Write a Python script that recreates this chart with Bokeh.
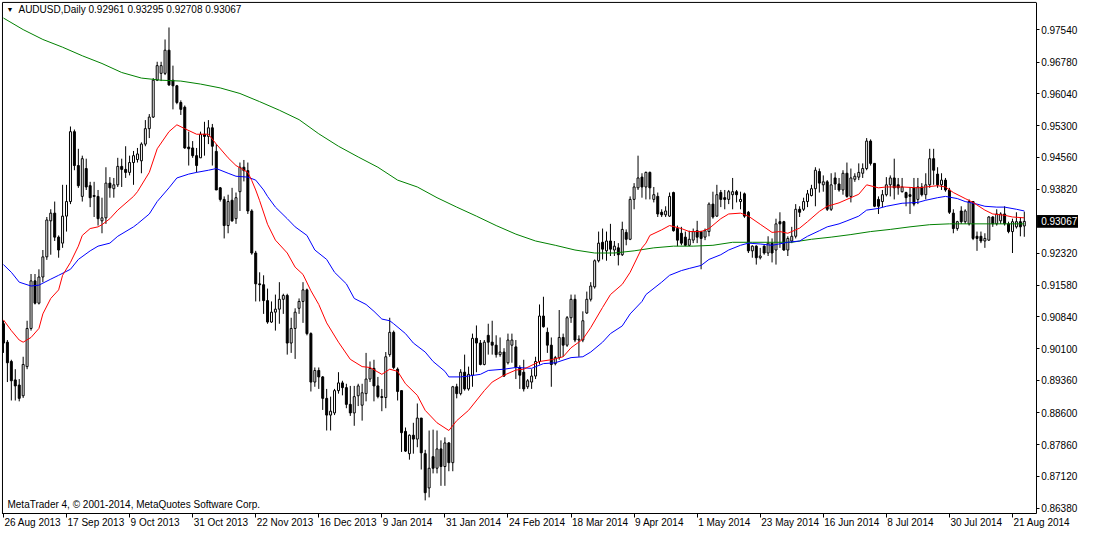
from bokeh.plotting import figure
from bokeh.models import (ColumnDataSource, FixedTicker, PrintfTickFormatter,
                          Label, LinearAxis, Range1d)
from bokeh.core.properties import value
from bokeh.embed import file_html
from bokeh.resources import INLINE

FONT = "Liberation Sans"

# ---------------- data (AUDUSD daily) ----------------
opens = [
    .9068, .9025, .8980, .8937, .8925, .8900, .8968, .9057, .9168, .9116,
    .9177, .9224, .9308, .9326, .9270, .9256, .9319, .9353, .9516, .9437,
    .9365, .9430, .9390, .9367, .9365, .9308, .9315, .9396, .9383, .9392,
    .9435, .9428, .9421, .9444, .9451, .9448, .9487, .9523, .9550, .9636,
    .9652, .9652, .9706, .9636, .9623, .9584, .9573, .9480, .9478, .9460,
    .9455, .9510, .9505, .9525, .9470, .9385, .9358, .9297, .9356, .9313,
    .9376, .9433, .9425, .9331, .9233, .9161, .9159, .9122, .9072, .9095,
    .9102, .9125, .9134, .9023, .9057, .9104, .9120, .9147, .9045, .8932,
    .8959, .8944, .8894, .8855, .8860, .8912, .8930, .8919, .8880, .8860,
    .8900, .8878, .8905, .8939, .8964, .8923, .8898, .8896, .8996, .9048,
    .8962, .8912, .8817, .8765, .8808, .8799, .8848, .8765, .8685, .8758,
    .8731, .8776, .8735, .8790, .8744, .8921, .8905, .8955, .8916, .8948,
    .9034, .9023, .8973, .9041, .9025, .9018, .8996, .9002, .8977, .9018,
    .9014, .8966, .8955, .8921, .8932, .8946, .8980, .9086, .9048, .9018,
    .8975, .8989, .9036, .9018, .9082, .9125, .9030, .9030, .9093, .9125,
    .9154, .9215, .9258, .9238, .9261, .9240, .9245, .9229, .9281, .9265,
    .9358, .9385, .9410, .9387, .9421, .9358, .9365, .9328, .9322, .9319,
    .9374, .9290, .9279, .9270, .9251, .9263, .9285, .9283, .9270, .9283,
    .9347, .9319, .9374, .9362, .9358, .9369, .9376, .9353, .9371, .9328,
    .9238, .9249, .9222, .9249, .9233, .9256, .9240, .9306, .9306, .9240,
    .9261, .9272, .9335, .9335, .9353, .9367, .9383, .9423, .9392, .9399,
    .9335, .9408, .9394, .9380, .9419, .9365, .9405, .9410, .9419, .9430,
    .9494, .9442, .9358, .9353, .9369, .9392, .9408, .9392, .9376, .9374,
    .9369, .9385, .9358, .9387, .9369, .9392, .9453, .9417, .9392, .9403,
    .9380, .9326, .9290, .9331, .9306, .9301, .9353, .9272, .9272, .9261,
    .9263, .9317, .9301, .9308, .9324, .9301, .9283, .9294, .9306, .92961,
]
highs = [
    .9075, .9030, .8984, .8962, .8939, .8991, .9075, .9184, .9184, .9195,
    .9240, .9317, .9335, .9353, .9274, .9392, .9392, .9528, .9521, .9476,
    .9460, .9453, .9399, .9399, .9380, .9362, .9433, .9410, .9408, .9455,
    .9453, .9482, .9460, .9471, .9478, .9491, .9543, .9557, .9641, .9679,
    .9679, .9731, .9759, .9670, .9625, .9589, .9577, .9516, .9494, .9478,
    .9516, .9539, .9543, .9534, .9487, .9387, .9365, .9369, .9385, .9374,
    .9444, .9450, .9444, .9335, .9238, .9188, .9181, .9150, .9120, .9136,
    .9165, .9138, .9138, .9082, .9104, .9127, .9165, .9150, .9048, .8966,
    .8966, .8946, .8916, .8898, .8916, .8955, .8935, .8928, .8923, .8923,
    .8928, .8928, .9000, .8980, .8984, .8944, .8916, .9002, .9082, .9052,
    .8966, .8912, .8826, .8810, .8837, .8882, .8848, .8774, .8819, .8821,
    .8819, .8796, .8803, .8792, .8923, .8928, .8962, .8996, .8968, .9045,
    .9064, .9030, .9030, .9068, .9075, .9041, .9036, .9011, .9045, .9045,
    .9030, .8971, .8984, .8939, .8962, .8991, .9113, .9131, .9059, .9036,
    .8993, .9100, .9045, .9086, .9136, .9136, .9041, .9097, .9143, .9165,
    .9218, .9283, .9290, .9283, .9301, .9261, .9256, .9306, .9288, .9365,
    .9396, .9460, .9419, .9423, .9423, .9387, .9374, .9335, .9342, .9374,
    .9376, .9297, .9294, .9283, .9285, .9290, .9308, .9285, .9290, .9351,
    .9376, .9392, .9380, .9380, .9380, .9408, .9380, .9376, .9374, .9331,
    .9251, .9251, .9245, .9251, .9272, .9267, .9313, .9328, .9308, .9272,
    .9294, .9347, .9342, .9362, .9380, .9392, .9433, .9430, .9414, .9403,
    .9419, .9421, .9408, .9426, .9444, .9430, .9419, .9442, .9442, .9501,
    .9498, .9442, .9365, .9380, .9410, .9414, .9453, .9408, .9408, .9376,
    .9387, .9408, .9408, .9396, .9419, .9476, .9476, .9433, .9419, .9408,
    .9385, .9335, .9308, .9342, .9335, .9358, .9353, .9283, .9283, .9279,
    .9319, .9319, .9335, .9328, .9342, .9306, .9313, .9328, .9317, .93295,
]
lows = [
    .9000, .8932, .8889, .8889, .8887, .8895, .8962, .9052, .9113, .9113,
    .9165, .9217, .9229, .9261, .9222, .9245, .9283, .9347, .9426, .9385,
    .9353, .9380, .9340, .9317, .9297, .9279, .9301, .9362, .9362, .9387,
    .9387, .9408, .9414, .9392, .9444, .9419, .9482, .9501, .9548, .9634,
    .9634, .9648, .9623, .9568, .9580, .9555, .9476, .9437, .9455, .9421,
    .9455, .9460, .9487, .9437, .9380, .9353, .9267, .9279, .9306, .9301,
    .9331, .9400, .9324, .9229, .9120, .9120, .9091, .9068, .9070, .9052,
    .9068, .9091, .8996, .9000, .8986, .9091, .9070, .9041, .8910, .8921,
    .8916, .8867, .8819, .8819, .8855, .8905, .8901, .8871, .8853, .8830,
    .8876, .8842, .8887, .8932, .8887, .8894, .8864, .8871, .8991, .8962,
    .8889, .8769, .8769, .8751, .8765, .8780, .8728, .8656, .8663, .8719,
    .8719, .8690, .8690, .8724, .8724, .8894, .8901, .8912, .8912, .8921,
    .8955, .8971, .8971, .8996, .8996, .8989, .8991, .8944, .8973, .8977,
    .8939, .8916, .8910, .8916, .8916, .8939, .8973, .9059, .9000, .8921,
    .8971, .8984, .8991, .9014, .9070, .9025, .8991, .9025, .9091, .9120,
    .9150, .9211, .9218, .9215, .9226, .9226, .9204, .9226, .9251, .9263,
    .9335, .9380, .9362, .9358, .9358, .9351, .9317, .9317, .9317, .9317,
    .9283, .9249, .9251, .9249, .9249, .9256, .9256, .9195, .9263, .9272,
    .9313, .9317, .9340, .9335, .9347, .9335, .9351, .9335, .9315, .9233,
    .9222, .9206, .9218, .9229, .9226, .9211, .9206, .9245, .9238, .9226,
    .9256, .9267, .9317, .9331, .9340, .9365, .9342, .9374, .9376, .9331,
    .9331, .9380, .9376, .9369, .9362, .9351, .9399, .9403, .9408, .9426,
    .9437, .9340, .9324, .9340, .9365, .9365, .9358, .9369, .9374, .9342,
    .9324, .9342, .9347, .9365, .9358, .9385, .9392, .9385, .9380, .9376,
    .9324, .9279, .9285, .9301, .9301, .9297, .9263, .9238, .9256, .9245,
    .9261, .9294, .9297, .9301, .9297, .9279, .9233, .9290, .9272, .92708,
]
closes = [
    .9023, .8977, .8935, .8923, .8894, .8973, .9057, .9168, .9116, .9177,
    .9224, .9310, .9326, .9270, .9240, .9319, .9353, .9516, .9437, .9390,
    .9453, .9387, .9362, .9365, .9313, .9315, .9396, .9385, .9392, .9435,
    .9428, .9421, .9444, .9460, .9464, .9487, .9523, .9550, .9636, .9670,
    .9670, .9706, .9625, .9623, .9584, .9568, .9478, .9476, .9460, .9437,
    .9510, .9505, .9525, .9482, .9380, .9358, .9297, .9353, .9308, .9362,
    .9433, .9425, .9331, .9233, .9161, .9159, .9122, .9072, .9095, .9102,
    .9125, .9134, .9023, .9057, .9095, .9120, .9147, .9045, .8932, .8959,
    .8944, .8894, .8855, .8864, .8912, .8930, .8919, .8880, .8860, .8898,
    .8923, .8907, .8939, .8964, .8923, .8898, .8896, .8991, .9048, .8966,
    .8910, .8814, .8771, .8808, .8799, .8848, .8767, .8674, .8731, .8731,
    .8776, .8735, .8790, .8744, .8921, .8905, .8955, .8916, .8950, .9034,
    .9023, .8973, .9025, .9025, .9018, .8996, .9002, .8946, .9030, .9030,
    .8966, .8948, .8916, .8935, .8946, .8980, .9086, .9061, .9018, .8973,
    .8989, .9036, .9018, .9082, .9125, .9030, .9032, .9075, .9125, .9156,
    .9215, .9256, .9242, .9261, .9242, .9249, .9229, .9288, .9265, .9358,
    .9387, .9408, .9387, .9421, .9385, .9369, .9324, .9322, .9331, .9365,
    .9285, .9263, .9256, .9251, .9265, .9283, .9270, .9267, .9285, .9347,
    .9317, .9369, .9358, .9358, .9376, .9376, .9369, .9358, .9319, .9238,
    .9249, .9222, .9226, .9233, .9256, .9233, .9301, .9301, .9240, .9267,
    .9272, .9335, .9328, .9353, .9371, .9383, .9426, .9396, .9399, .9335,
    .9392, .9394, .9380, .9419, .9365, .9408, .9412, .9421, .9430, .9494,
    .9442, .9342, .9342, .9369, .9392, .9408, .9385, .9385, .9387, .9362,
    .9365, .9347, .9387, .9369, .9392, .9453, .9426, .9392, .9403, .9380,
    .9328, .9290, .9306, .9306, .9331, .9353, .9267, .9267, .9261, .9267,
    .9317, .9301, .9324, .9324, .9301, .9283, .9306, .9306, .9294, .93067,
]

# moving averages, sampled at bar numbers
red_bars = [0, 2, 4, 5, 7, 9, 10, 12, 14, 15, 17, 19, 20, 22, 24, 25, 27, 29, 33, 34,
            37, 39, 42, 44, 46, 49, 52, 54, 57, 59, 62, 63, 64, 65, 67, 69, 72, 74, 76, 78,
            80, 82, 85, 88, 91, 93, 96, 98, 100, 102, 105, 107, 110, 113, 115, 118, 122, 124, 127, 130,
            132, 136, 139, 142, 144, 147, 149, 152, 154, 157, 159, 162, 163, 164, 167, 169, 172, 174, 177, 179,
            182, 184, 187, 189, 192, 195, 197, 199, 202, 204, 207, 209, 212, 214, 217, 219, 222, 224, 228, 232,
            234, 237, 239, 241, 244, 246, 249, 251, 254, 256, 259]
red_vals = [.9077, .9052, .9030, .9025, .9036, .9057, .9091, .9127, .9147, .9181,
            .9211, .9249, .9274, .9290, .9294, .9299, .9313, .9333, .9365, .9376,
            .9421, .9476, .9516, .9532, .9523, .9510, .9510, .9487, .9455, .9437,
            .9421, .9402, .9380, .9355, .9300, .9263, .9233, .9200, .9183, .9145,
            .9113, .9070, .9025, .8985, .8968, .8966, .8950, .8962, .8957, .8928,
            .8901, .8866, .8837, .8819, .8842, .8866, .8912, .8932, .8948, .8960,
            .8962, .8980, .8984, .8991, .9012, .9032, .9059, .9106, .9136, .9160,
            .9188, .9245, .9256, .9274, .9287, .9297, .9290, .9283, .9283, .9290,
            .9313, .9324, .9326, .9319, .9300, .9281, .9283, .9279, .9291, .9306,
            .9330, .9342, .9350, .9358, .9370, .9392, .9385, .9387, .9387, .9385,
            .9387, .9390, .9387, .9374, .9360, .9351, .9333, .9324, .9321, .9317,
            .9315]
blue_bars = [0, 2, 4, 7, 9, 12, 14, 17, 19, 22, 24, 27, 29, 33, 34, 37, 39, 42, 44, 47,
             49, 52, 54, 57, 59, 62, 64, 66, 67, 69, 72, 74, 77, 79, 82, 84, 87, 89, 92, 94,
             96, 98, 99, 102, 104, 107, 109, 112, 113, 116, 118, 121, 123, 127, 130, 134, 137, 140, 144, 147,
             149, 152, 154, 157, 159, 162, 163, 167, 169, 172, 174, 177, 179, 182, 184, 187, 189, 192, 195, 199,
             202, 204, 207, 209, 212, 214, 217, 219, 222, 224, 228, 232, 234, 237, 239, 242, 244, 247, 249, 252,
             254, 257, 259]
blue_vals = [.9206, .9188, .9165, .9156, .9158, .9172, .9181, .9195, .9218, .9238,
             .9249, .9256, .9272, .9294, .9301, .9324, .9353, .9385, .9408, .9417,
             .9421, .9426, .9430, .9419, .9412, .9410, .9403, .9380, .9365, .9340,
             .9313, .9294, .9274, .9240, .9218, .9188, .9161, .9127, .9113, .9097,
             .9079, .9075, .9068, .9045, .9023, .9002, .8980, .8957, .8944, .8944,
             .8946, .8950, .8959, .8962, .8966, .8964, .8975, .8977, .8989, .8991,
             .9002, .9025, .9045, .9063, .9091, .9120, .9136, .9165, .9181, .9192,
             .9197, .9204, .9218, .9229, .9240, .9251, .9256, .9254, .9251, .9258,
             .9261, .9272, .9285, .9294, .9301, .9308, .9319, .9333, .9337, .9342,
             .9349, .9351, .9356, .9362, .9365, .9360, .9353, .9347, .9342, .9340,
             .9340, .9335, .9331]
green_bars = [0, 5, 10, 15, 20, 25, 30, 35, 40, 45, 50, 55, 60, 65, 70, 75, 80, 85, 90, 95,
              100, 105, 110, 115, 120, 125, 130, 135, 140, 145, 150, 155, 160, 165, 170, 175, 180, 185, 190, 195,
              200, 205, 210, 215, 220, 225, 230, 235, 240, 245, 250, 255, 259]
green_vals = [.9781, .9754, .9731, .9713, .9693, .9675, .9654, .9641, .9636, .9634,
              .9627, .9618, .9605, .9586, .9566, .9544, .9511, .9482, .9457, .9433,
              .9403, .9387, .9362, .9340, .9319, .9297, .9277, .9261, .9251, .9240,
              .9233, .9233, .9238, .9245, .9249, .9249, .9251, .9258, .9258, .9258,
              .9258, .9265, .9270, .9276, .9283, .9288, .9294, .9299, .9301, .9301,
              .9301, .9301, .9301]

date_bars = [0, 16, 32, 48, 64, 80, 96, 112, 128, 144, 160, 176, 192, 208, 224, 240, 256]
date_labels = ["26 Aug 2013", "17 Sep 2013", "9 Oct 2013", "31 Oct 2013", "22 Nov 2013",
               "16 Dec 2013", "9 Jan 2014", "31 Jan 2014", "24 Feb 2014", "18 Mar 2014",
               "9 Apr 2014", "1 May 2014", "23 May 2014", "16 Jun 2014", "8 Jul 2014",
               "30 Jul 2014", "21 Aug 2014"]
price_ticks = [0.9754, 0.9678, 0.9604, 0.9530, 0.9456, 0.9382, 0.9232, 0.9158,
               0.9084, 0.9010, 0.8936, 0.8860, 0.8786, 0.8712, 0.8638]
last_price = 0.93067
title_text = "AUDUSD,Daily  0.92961 0.93295 0.92708 0.93067"
copyright_text = "MetaTrader 4, \u00a9 2001-2014, MetaQuotes Software Corp."

# ---------------- layout constants (chart window geometry) ----------------
PX = 0.0002264              # price per screen pixel of the reference window
BAR = 0.25                  # bars per screen pixel (4 px per bar)
X_LEFT, X_RIGHT = -0.25, 262.0          # chart frame, in bars
Y_BOT, Y_TOP = 0.86244, 0.98174         # chart frame, in price
XR = (-0.75, 272.75)                    # whole window
YR = (0.85858, 0.98219)

# ---------------- figure ----------------
n = len(closes)
bars = list(range(n))
body_top = [max(o, c) for o, c in zip(opens, closes)]
body_bot = [min(o, c) for o, c in zip(opens, closes)]
fills = ["white" if c >= o else "black" for o, c in zip(opens, closes)]
src = ColumnDataSource(dict(x=bars, h=highs, l=lows, top=body_top, bot=body_bot, fill=fills))

p = figure(width=1078, height=530, output_backend="svg", toolbar_location=None,
           x_range=Range1d(*XR), y_range=Range1d(*YR),
           x_axis_location=None, y_axis_location=None,
           min_border_left=0, min_border_right=0, min_border_top=0, min_border_bottom=0)
p.grid.visible = False
p.outline_line_color = None
p.background_fill_color = "white"
p.border_fill_color = "white"

# price axis, drawn on the right edge of the chart frame
yax = LinearAxis(fixed_location=X_RIGHT, bounds=(Y_BOT, Y_TOP))
yax.ticker = FixedTicker(ticks=price_ticks)
yax.formatter = PrintfTickFormatter(format="%.5f")
yax.major_tick_out = 3
yax.major_tick_in = 0
yax.minor_tick_out = 0
yax.minor_tick_in = 0
yax.axis_line_color = "black"
yax.major_tick_line_color = "black"
yax.major_label_text_font = FONT
yax.major_label_text_font_size = "10px"
yax.major_label_text_color = "black"
yax.major_label_standoff = 2
p.add_layout(yax, "right")

# time axis, drawn on the bottom edge of the chart frame (tick marks only)
xax = LinearAxis(fixed_location=Y_BOT, bounds=(X_LEFT, X_RIGHT))
xax.ticker = FixedTicker(ticks=date_bars)
xax.major_label_text_color = None
xax.major_tick_out = 4
xax.major_tick_in = 0
xax.minor_tick_out = 0
xax.minor_tick_in = 0
xax.axis_line_color = "black"
xax.major_tick_line_color = "black"
p.add_layout(xax, "below")

# left and top border of the chart frame
p.segment(x0=[X_LEFT, X_LEFT], y0=[Y_BOT, Y_TOP], x1=[X_LEFT, X_RIGHT], y1=[Y_TOP, Y_TOP],
          line_color="black", line_width=1)

# candles
p.segment(x0="x", y0="l", x1="x", y1="h", source=src, line_color="black", line_width=1)
p.vbar(x="x", width=0.5, top="top", bottom="bot", fill_color="fill",
       line_color="black", line_width=1, source=src)

# moving averages
p.line(green_bars, green_vals, line_color="#008000", line_width=1)
p.line(blue_bars, blue_vals, line_color="#0000ff", line_width=1)
p.line(red_bars, red_vals, line_color="#ff0000", line_width=1)

# date labels, left aligned at their tick
dsrc = ColumnDataSource(dict(x=date_bars, y=[Y_BOT] * len(date_bars), text=date_labels))
p.text(x="x", y="y", text="text", source=dsrc, x_offset=1, y_offset=9,
       text_align="left", text_baseline="middle",
       text_font=value(FONT), text_font_size=value("10px"), text_color="black")

# current price box on the price axis
p.quad(left=[X_RIGHT + BAR], right=[XR[1]], bottom=[last_price - 6 * PX], top=[last_price + 6 * PX],
       fill_color="black", line_color="black")
p.text(x=[X_RIGHT], y=[last_price], text=["%.5f" % last_price], x_offset=5,
       text_align="left", text_baseline="middle",
       text_font=value(FONT), text_font_size=value("10px"), text_color="white")

# header and copyright
p.add_layout(Label(x=X_LEFT, y=Y_TOP, x_offset=4, y_offset=-7, text="\u25bc",
                   text_font=FONT, text_font_size="7px", text_baseline="middle",
                   text_color="black"))
p.add_layout(Label(x=X_LEFT, y=Y_TOP, x_offset=16, y_offset=-7, text=title_text,
                   text_font=FONT, text_font_size="10px", text_baseline="middle",
                   text_color="black"))
p.add_layout(Label(x=X_LEFT, y=Y_BOT, x_offset=5, y_offset=9, text=copyright_text,
                   text_font=FONT, text_font_size="10px", text_baseline="middle",
                   text_color="black"))

open("out.html", "w").write(file_html(p, INLINE))
